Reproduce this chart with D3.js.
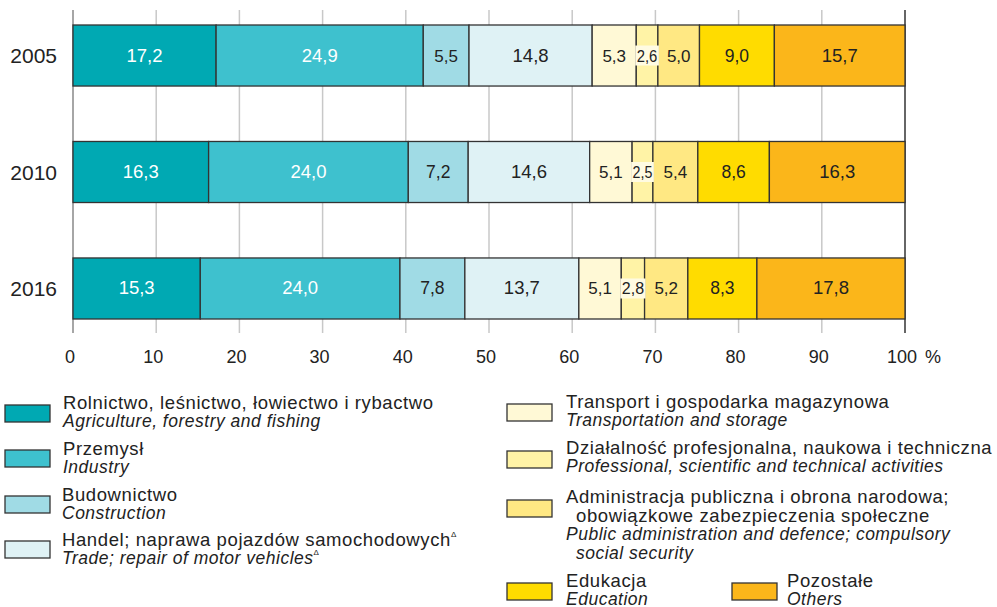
<!DOCTYPE html>
<html>
<head>
<meta charset="utf-8">
<script src="https://cdn.jsdelivr.net/npm/d3@7"></script>
<style>
  body { margin: 0; background: #fff; }
  svg { font-family: "Liberation Sans", Arial, sans-serif; }
</style>
</head>
<body>
<svg width="997" height="607"></svg>
<script>
// years and sector shares (%)
var years = ['2005', '2010', '2016'];
var sectorsPl = ['Rolnictwo, leśnictwo, łowiectwo i rybactwo', 'Przemysł', 'Budownictwo',
  'Handel; naprawa pojazdów samochodowych', 'Transport i gospodarka magazynowa',
  'Działalność profesjonalna, naukowa i techniczna', 'Administracja publiczna i obrona narodowa;',
  'Edukacja', 'Pozostałe'];
var sectorsEn = ['Agriculture, forestry and fishing', 'Industry', 'Construction',
  'Trade; repair of motor vehicles', 'Transportation and storage',
  'Professional, scientific and technical activities', 'Public administration and defence; compulsory',
  'Education', 'Others'];
var values2005 = [17.2, 24.9, 5.5, 14.8, 5.3, 2.6, 5.0, 9.0, 15.7];
var values2010 = [16.3, 24.0, 7.2, 14.6, 5.1, 2.5, 5.4, 8.6, 16.3];
var values2016 = [15.3, 24.0, 7.8, 13.7, 5.1, 2.8, 5.2, 8.3, 17.8];
var ticks = [0, 10, 20, 30, 40, 50, 60, 70, 80, 90, 100];
var colors = ['#00a9b3', '#3ec1ce', '#a0dbe5', '#dff2f5', '#fff9d6', '#fff3a6', '#ffe883', '#ffdc00', '#fbb61a'];

var svg = d3.select('svg');
var x = d3.scaleLinear().domain([0, 100]).range([73, 905]);
var y = d3.scaleBand().domain(years).range([25, 319]).paddingInner(0.476).paddingOuter(0);
var fmt = function(v) { return d3.format('.1f')(v).replace('.', ','); };

// grid
svg.append('g').selectAll('line')
  .data(ticks)
  .enter().append('line')
  .attr('x1', function(d) { return x(d); })
  .attr('x2', function(d) { return x(d); })
  .attr('y1', 10).attr('y2', 333)
  .style('stroke', function(d) { return d == 0 ? '#888' : (d == 100 ? '#333' : '#c8c8c8'); })
  .style('stroke-width', 1.5);

// stacked segments
var rows = [values2005, values2010, values2016];
var segs = [];
rows.forEach(function(vals, i) {
  var acc = 0;
  vals.forEach(function(v, j) {
    segs.push({year: years[i], k: j, v: v, x0: acc, x1: acc + v});
    acc += v;
  });
});

var g = svg.append('g');
g.selectAll('rect')
  .data(segs)
  .enter().append('rect')
  .attr('x', function(d) { return x(d.x0); })
  .attr('y', function(d) { return y(d.year); })
  .attr('width', function(d) { return x(d.x1) - x(d.x0); })
  .attr('height', y.bandwidth())
  .style('fill', function(d) { return colors[d.k]; })
  .style('stroke', '#333')
  .style('stroke-width', 1.3);

// white box behind the narrow labels
g.selectAll('rect.bg')
  .data(segs.filter(function(d) { return d.v < 3; }))
  .enter().append('rect')
  .attr('class', 'bg')
  .attr('x', function(d) { return x(d.x0) - 1; })
  .attr('y', function(d) { return y(d.year) + y.bandwidth() / 2 - 10; })
  .attr('width', function(d) { return x(d.x1) - x(d.x0) + 2; })
  .attr('height', 20)
  .style('fill', '#fffbe2');

g.selectAll('text')
  .data(segs)
  .enter().append('text')
  .attr('x', function(d) { return x((d.x0 + d.x1) / 2); })
  .attr('y', function(d) { return y(d.year) + y.bandwidth() / 2 + 6; })
  .attr('text-anchor', 'middle')
  .style('font-size', function(d) { return d.v < 3 ? '16px' : (d.v < 6 ? '17px' : (d.v < 10 ? '17.5px' : '18.5px')); })
  .style('fill', function(d) { return d.k < 2 ? '#fff' : '#222'; })
  .each(function(d) {
    if (d.v < 3) {
      d3.select(this).attr('textLength', x(d.x1) - x(d.x0) - 1).attr('lengthAdjust', 'spacingAndGlyphs');
    }
  })
  .text(function(d) { return fmt(d.v); });

// year labels
svg.append('g').selectAll('text')
  .data(years)
  .enter().append('text')
  .attr('x', 57)
  .attr('y', function(d) { return y(d) + y.bandwidth() / 2 + 7.5; })
  .attr('text-anchor', 'end')
  .style('font-size', '21px')
  .style('fill', '#222')
  .text(function(d) { return d; });

// x tick labels
svg.append('g').selectAll('text')
  .data(ticks)
  .enter().append('text')
  .attr('x', function(d) { return x(d) - 3; })
  .attr('y', 363)
  .attr('text-anchor', 'middle')
  .style('font-size', '18px')
  .style('fill', '#222')
  .text(function(d) { return d; });
svg.append('text').attr('x', 933).attr('y', 363).attr('text-anchor', 'middle')
  .style('font-size', '18px').style('fill', '#222').text('%');

// legend
var legendPos = [
  {sx: 5, sy: 405, tx: 63, ty: 409},
  {sx: 5, sy: 450, tx: 63, ty: 455},
  {sx: 5, sy: 496, tx: 62, ty: 501},
  {sx: 5, sy: 541, tx: 62, ty: 546},
  {sx: 507, sy: 404, tx: 566, ty: 408},
  {sx: 507, sy: 451, tx: 566, ty: 454},
  {sx: 507, sy: 500, tx: 566, ty: 503},
  {sx: 507, sy: 583, tx: 566, ty: 587},
  {sx: 732, sy: 583, tx: 787, ty: 587}
];
var extraPl = {6: 'obowiązkowe zabezpieczenia społeczne'};
var extraEn = {6: 'social security'};

var lg = svg.append('g').selectAll('g')
  .data(sectorsPl)
  .enter().append('g');

lg.append('rect')
  .attr('x', function(d, i) { return legendPos[i].sx; })
  .attr('y', function(d, i) { return legendPos[i].sy; })
  .attr('width', 45).attr('height', 17)
  .style('fill', function(d, i) { return colors[i]; })
  .style('stroke', '#333').style('stroke-width', 1.3);

function plText(el, xx, yy, s) {
  return el.append('text').attr('x', xx).attr('y', yy)
    .style('font-size', '18.5px').style('letter-spacing', '0.6px').style('fill', '#222').text(s);
}
function enText(el, xx, yy, s) {
  return el.append('text').attr('x', xx).attr('y', yy)
    .style('font-size', '17.5px').style('letter-spacing', '0.5px').style('font-style', 'italic')
    .style('fill', '#222').text(s);
}

lg.each(function(d, i) {
  var p = legendPos[i];
  var el = d3.select(this);
  var ty = p.ty;
  var t = plText(el, p.tx, ty, d);
  if (i == 3) t.append('tspan').attr('dy', -9).style('font-size', '8px').text('Δ');
  if (extraPl[i]) {
    ty += 19;
    plText(el, p.tx + 10, ty, extraPl[i]);
  }
  ty += 18;
  var e = enText(el, p.tx, ty, sectorsEn[i]);
  if (i == 3) e.append('tspan').attr('dy', -9).style('font-size', '8px').style('font-style', 'normal').text('Δ');
  if (extraEn[i]) {
    ty += 19;
    enText(el, p.tx + 10, ty, extraEn[i]);
  }
});
</script>
</body>
</html>
